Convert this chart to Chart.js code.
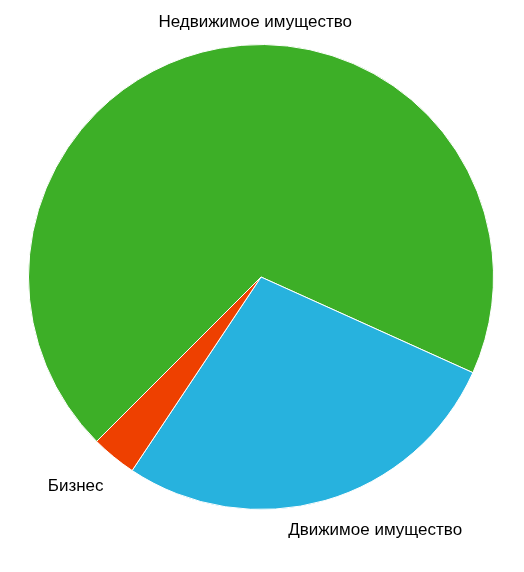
<!DOCTYPE html>
<html>
<head>
<meta charset="utf-8">
<script src="https://cdn.jsdelivr.net/npm/chart.js@4"></script>
<style>
  html, body { margin: 0; padding: 0; background: #fff; }
  #wrap { width: 524px; height: 572px; }
</style>
</head>
<body>
<div id="wrap"><canvas id="pieChart" width="524" height="572"></canvas></div>
<script>
// Pie data
const labels = ['Недвижимое имущество', 'Движимое имущество', 'Бизнес'];
const values = [69.25, 27.6, 3.15];
const colors = ['#3daf27', '#27b2de', '#ee4000'];

// where each label sits relative to the mid point of its slice edge
const labelShift = [
  { dx: 36, dy: -26 },  // Недвижимое имущество
  { dx: 50, dy: 30 },   // Движимое имущество
  { dx: -38, dy: 29 }   // Бизнес
];

const outsideLabels = {
  id: 'outsideLabels',
  afterDatasetsDraw(chart) {
    const ctx = chart.ctx;
    const meta = chart.getDatasetMeta(0);
    ctx.save();
    ctx.font = '17px "Liberation Sans", Arial, sans-serif';
    ctx.fillStyle = '#000';
    ctx.textAlign = 'center';
    ctx.textBaseline = 'middle';
    meta.data.forEach((arc, i) => {
      const mid = (arc.startAngle + arc.endAngle) / 2;
      const x = arc.x + Math.cos(mid) * arc.outerRadius + labelShift[i].dx;
      const y = arc.y + Math.sin(mid) * arc.outerRadius + labelShift[i].dy;
      ctx.fillText(labels[i], x, y);
    });
    ctx.restore();
  }
};

const pieCtx = document.getElementById('pieChart').getContext('2d');
const pieChart = new Chart(pieCtx, {
  type: 'pie',
  data: {
    labels: labels,
    datasets: [{
      data: values,
      backgroundColor: colors,
      borderColor: '#ffffff',
      borderWidth: 1
    }]
  },
  options: {
    responsive: false,
    animation: false,
    rotation: 225, // green slice starts at lower left
    layout: {
      padding: { left: 28, right: 30, top: 44, bottom: 62 }
    },
    plugins: {
      legend: { display: false },
      tooltip: { enabled: false }
    }
  },
  plugins: [outsideLabels]
});
</script>
</body>
</html>
